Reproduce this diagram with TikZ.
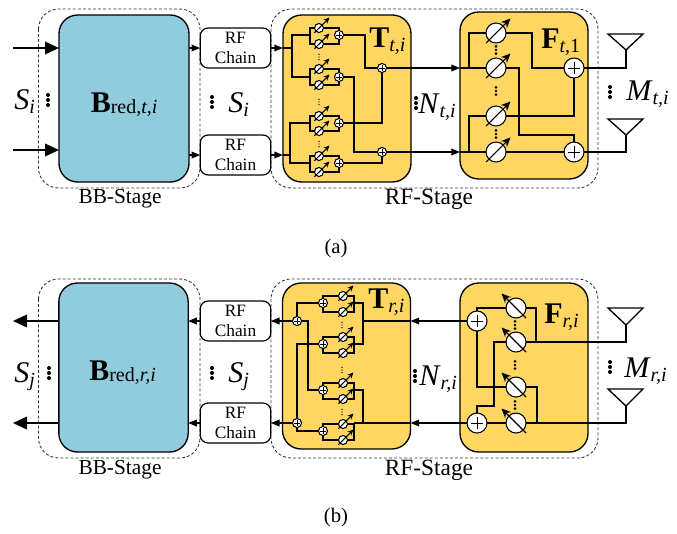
\documentclass[tikz,border=0pt]{standalone}
\usepackage{fontspec}
\setmainfont{Liberation Serif}
\usetikzlibrary{arrows.meta}
\definecolor{bluebox}{HTML}{90CCDE}
\definecolor{yellowbox}{HTML}{FFD662}
\definecolor{dashgray}{HTML}{333333}
\tikzset{
  wire/.style={line width=1pt,black,line join=miter},
  smallarrow/.style={wire,-{Triangle[length=6.5pt,width=5pt]}},
  bigarrow/.style={line width=1.1pt,-{Triangle[length=10.5pt,width=9.5pt]}},
  groupbox/.style={draw=dashgray,dashed,dash pattern=on 2.2pt off 1.6pt,line width=.65pt,rounded corners=15pt},
  basebox/.style={draw,fill=bluebox,line width=1pt,rounded corners=14pt,inner sep=0,outer sep=0,minimum width=#1},
  stagebox/.style={draw,fill=yellowbox,line width=1pt,rounded corners=14pt,inner sep=0,outer sep=0,minimum width=96pt},
  chainbox/.style={draw,fill=white,line width=.9pt,rounded corners=6pt,inner sep=0,outer sep=0,minimum width=53pt,minimum height=30pt,align=center,font=\fontsize{13}{15.5}\selectfont},
  phaser/.style={circle,draw,fill=white,line width=.8pt,inner sep=0,outer sep=0,minimum size=#1},
  adder/.style={circle,draw,fill=white,line width=.8pt,inner sep=0,outer sep=0,minimum size=#1*1pt,
    path picture={\draw[line width=.7pt] ([xshift=-.32pt*#1]path picture bounding box.center) -- ([xshift=.32pt*#1]path picture bounding box.center)
      ([yshift=-.32pt*#1]path picture bounding box.center) -- ([yshift=.32pt*#1]path picture bounding box.center);}},
  slashtip/.style={line width=.8pt,-{Stealth[length=#1,width=#1*.9]}},
  caption/.style={font=\fontsize{15.5}{18}\selectfont,inner sep=0},
  stagecap/.style={font=\fontsize{#1}{18}\selectfont,inner sep=0},
  lab/.style={anchor=base west,inner sep=0},
}
\newcommand{\bigsym}[3]{{\fontsize{22.5}{24}\selectfont #1}\raisebox{-#3pt}{\fontsize{15}{17}\selectfont #2}}
\newcommand{\tinydots}[4]{\foreach \k in {-1,0,1} \fill (#1,#2+\k*#3) circle (#4pt);}
% pair of small shifters and their adder: id, ps x, branch x, adder x, y1, y2, yadd
\newcommand{\ppair}[7]{%
  \node[phaser=6.8pt] (#1a) at (#2,#5) {};
  \node[phaser=6.8pt] (#1b) at (#2,#6) {};
  \node[adder=6.8] (#1s) at (#4,#7) {};
  \coordinate (#1i) at (#3,#7);
  \draw[wire] (#1a) -| (#1i) |- (#1b);
  \draw[wire] (#1a) -| (#1s);
  \draw[wire] (#1b) -| (#1s);
  \draw[slashtip=4.6pt] ([shift={(-4.7,4.7)}]#1a.center) -- ([shift={(10.5,-10.5)}]#1a.center);
  \draw[slashtip=4.6pt] ([shift={(-4.7,4.7)}]#1b.center) -- ([shift={(10.5,-10.5)}]#1b.center);
}
\newcommand{\bigps}[4]{% name,x,y,dir (1 up-right, -1 up-left)
  \node[phaser=15pt] (#1) at (#2,#3) {};
  \draw[slashtip=7pt] ([shift={(-10*#4,10)}]#1.center) -- ([shift={(14.5*#4,-14.5)}]#1.center);
}
\begin{document}
\begin{tikzpicture}[x=.75pt,y=-.75pt]
\useasboundingbox (0,0) rectangle (677,533);
% ---------- (a) ----------
\draw[groupbox] (38.5,9) rectangle (200,188);
\draw[groupbox] (271,9) rectangle (598,188);
\node[basebox=97.5pt,minimum height=125.25pt] (blueA) at (124,98.5) {};
\node[stagebox,minimum height=125.25pt] (tA) at (347,98.5) {};
\node[stagebox,minimum height=125.25pt] (fA) at (524,95.5) {};
\node[chainbox] (rfA1) at (235.5,48) {RF\\Chain};
\node[chainbox] (rfA2) at (235.5,155) {RF\\Chain};
\coordinate (inA1) at (13,48);
\coordinate (inA2) at (13,150);
\draw[bigarrow] (inA1) -- (inA1 -| blueA.west);
\draw[bigarrow] (inA2) -- (inA2 -| blueA.west);
\draw[smallarrow] (rfA1 -| blueA.east) -- (rfA1.west);
\draw[smallarrow] (rfA2 -| blueA.east) -- (rfA2.west);
\draw[smallarrow] (rfA1.east) -- (rfA1 -| tA.west);
\draw[smallarrow] (rfA2.east) -- (rfA2 -| tA.west);
% T block a
\ppair{ta1}{319}{310}{339}{28}{44}{35}
\ppair{ta2}{319}{310}{339}{69}{85}{77}
\ppair{ta3}{319}{310}{339}{116}{131}{123}
\ppair{ta4}{319}{310}{339}{156}{172}{163}
\node[adder=6.8] (tas1) at (382,68) {};
\node[adder=6.8] (tas2) at (382,152) {};
\coordinate (jA1) at (292,48);
\coordinate (jA2) at (290,155);
\draw[wire] (rfA1 -| tA.west) -- (jA1);
\draw[wire] (ta1i) -| (jA1) |- (ta2i);
\draw[wire] (rfA2 -| tA.west) -- (jA2);
\draw[wire] (ta3i) -| (jA2) |- (ta4i);
\coordinate (bA1) at (365,35);
\coordinate (bA2) at (354,77);
\draw[wire] (ta1s) -- (bA1) |- (tas1);
\draw[wire] (ta2s) -- (bA2) |- (tas2);
\draw[wire] (ta3s) -| (tas1);
\draw[wire] (ta4s) -| (tas2);
\tinydots{319}{57}{2.6}{.55}
\tinydots{319}{102}{2.6}{.55}
\tinydots{319}{144}{2.6}{.55}
% F block a
\bigps{fa1}{496}{33}{1}
\bigps{fa2}{496}{68}{1}
\bigps{fa3}{496}{116}{1}
\bigps{fa4}{496}{152}{1}
\node[adder=15] (fas1) at (574,68) {};
\node[adder=15] (fas2) at (574,152) {};
\draw[smallarrow] (tas1) -- (tas1 -| fA.west);
\draw[smallarrow] (tas2) -- (tas2 -| fA.west);
\coordinate (jA3) at (469,68);
\coordinate (jA4) at (469,152);
\draw[wire] (tas1 -| fA.west) -- (fa2);
\draw[wire] (tas2 -| fA.west) -- (fa4);
\draw[wire] (jA3) |- (fa1);
\draw[wire] (jA4) |- (fa3);
\coordinate (bA3) at (532,33);
\coordinate (bA4) at (519,68);
\coordinate (bA5) at (574,135);
\draw[wire] (fa1) -- (bA3) |- (fas1);
\draw[wire] (fa2) -- (bA4) |- (bA5) -- (fas2);
\draw[wire] (fa3) -| (fas1);
\draw[wire] (fa4) -- (fas2);
\tinydots{496}{50}{3.6}{1.1}
\tinydots{496}{91}{3.6}{1.1}
\tinydots{496}{134}{3.6}{1.1}
\coordinate (antA1) at (626,50);
\coordinate (antA2) at (626,135);
\draw[wire] (antA1) -- (608,34) -- (643,34) -- cycle;
\draw[wire] (antA2) -- (608,119) -- (643,119) -- cycle;
\draw[wire] (fas1) -| (antA1);
\draw[wire] (fas2) -| (antA2);
% labels a
\node[lab] (sA1) at (14,109) {\bigsym{\textit{S}}{\textit{i}}{3.5}};
\node[lab] (sA2) at (228,112) {\bigsym{\textit{S}}{\textit{i}}{3.5}};
\node[lab] (bA) at (90.5,112) {\bigsym{\textbf{B}}{red\textit{,t,i}}{1}};
\node[lab] (tlA) at (369,47) {\bigsym{\textbf{T}}{\textit{t,i}}{3.5}};
\node[lab] (flA) at (541,48) {\bigsym{\textbf{F}}{\textit{t,}1}{3.5}};
\node[lab] (nA) at (418,113) {\bigsym{\textit{N}}{\textit{t,i}}{3.5}};
\node[lab] (mA) at (626,100) {\bigsym{\textit{M}}{\textit{t,i}}{3.5}};
\tinydots{48}{100}{5}{1.5}
\tinydots{212}{102}{5}{1.5}
\tinydots{416}{103}{5}{1.5}
\tinydots{610}{92}{5}{1.5}
\node[stagecap=16] (capBBa) at (120,199) {BB-Stage};
\node[stagecap=17.5] (capRFa) at (429,199) {RF-Stage};
\node[caption] (capa) at (336,249) {(a)};
% ---------- (b) ----------
\draw[groupbox] (38.5,279) rectangle (200,458);
\draw[groupbox] (271,279) rectangle (598,458);
\node[basebox=97pt,minimum height=126.75pt] (blueB) at (123.5,367.5) {};
\node[stagebox,minimum height=124.5pt] (tB) at (346.5,366) {};
\node[stagebox,minimum height=126.75pt] (fB) at (524,367.5) {};
\node[chainbox] (rfB1) at (235.5,321) {RF\\Chain};
\node[chainbox] (rfB2) at (235.5,423) {RF\\Chain};
\coordinate (outB1) at (13,321);
\coordinate (outB2) at (13,423);
\draw[bigarrow] (outB1 -| blueB.west) -- (outB1);
\draw[bigarrow] (outB2 -| blueB.west) -- (outB2);
\draw[smallarrow] (rfB1.west) -- (rfB1 -| blueB.east);
\draw[smallarrow] (rfB2.west) -- (rfB2 -| blueB.east);
% T block b
\ppair{tb1}{343}{354}{323}{296}{312}{303}
\ppair{tb2}{343}{354}{323}{337}{353}{344}
\ppair{tb3}{343}{354}{323}{383}{399}{390}
\ppair{tb4}{343}{354}{323}{424}{440}{431}
\node[adder=6.8] (tbs1) at (297,321) {};
\node[adder=6.8] (tbs2) at (297,423) {};
\coordinate (jB1) at (363,321);
\coordinate (jB2) at (363,423);
\draw[wire] (tb1i) -| (jB1) |- (tb2i);
\draw[wire] (tb3i) -| (jB2);
\draw[wire] (jB2) -- (354,423);
\draw[wire] (tb1s) -| (tbs1);
\draw[wire] (tb4s) -| (tbs2);
\coordinate (bB1) at (297,344);
\coordinate (bB2) at (308,321);
\draw[wire] (tb2s) -- (bB1) -- (tbs2);
\draw[wire] (tb3s) -| (bB2) -- (tbs1);
\draw[wire] (jB1) -- (tB.east |- jB1);
\draw[wire] (jB2) -- (tB.east |- jB2);
\draw[smallarrow] (tbs1) -- (tbs1 -| rfB1.east);
\draw[smallarrow] (tbs2) -- (tbs2 -| rfB2.east);
\tinydots{342}{325}{2.6}{.55}
\tinydots{342}{370}{2.6}{.55}
\tinydots{342}{412}{2.6}{.55}
% F block b
\bigps{fb1}{516}{308}{-1}
\bigps{fb2}{516}{342}{-1}
\bigps{fb3}{516}{387}{-1}
\bigps{fb4}{516}{423}{-1}
\node[adder=15] (fbs1) at (477,321) {};
\node[adder=15] (fbs2) at (477,423) {};
\draw[smallarrow] (fbs1) -- (fbs1 -| tB.east);
\draw[smallarrow] (fbs2) -- (fbs2 -| tB.east);
\coordinate (bB3) at (494,406);
\draw[wire] (fbs1) |- (fb1);
\draw[wire] (fbs1) |- (fb3);
\draw[wire] (fbs2) |- (bB3) |- (fb2);
\draw[wire] (fbs2) -- (fb4);
\coordinate (antB1) at (626,325);
\coordinate (antB2) at (626,406);
\draw[wire] (antB1) -- (608,308) -- (643,308) -- cycle;
\draw[wire] (antB2) -- (608,389) -- (643,389) -- cycle;
\coordinate (cB1) at (536,342);
\coordinate (cB2) at (537,423);
\draw[wire] (fb1) -| (cB1);
\draw[wire] (fb3) -| (cB2);
\draw[wire] (fb2) -| (antB1);
\draw[wire] (fb4) -| (antB2);
\tinydots{515}{325}{3.6}{1.1}
\tinydots{515}{365}{3.6}{1.1}
\tinydots{515}{405}{3.6}{1.1}
% labels b
\node[lab] (sB1) at (14,382) {\bigsym{\textit{S}}{\textit{j}}{3.5}};
\node[lab] (sB2) at (228,382) {\bigsym{\textit{S}}{\textit{j}}{3.5}};
\node[lab] (bB) at (89,380) {\bigsym{\textbf{B}}{red\textit{,r,i}}{1}};
\node[lab] (tlB) at (368,308) {\bigsym{\textbf{T}}{\textit{r,i}}{3.5}};
\node[lab] (flB) at (544,323) {\bigsym{\textbf{F}}{\textit{r,i}}{3.5}};
\node[lab] (nB) at (419,385) {\bigsym{\textit{N}}{\textit{r,i}}{3.5}};
\node[lab] (mB) at (624,377) {\bigsym{\textit{M}}{\textit{r,i}}{3.5}};
\tinydots{49}{373}{5}{1.5}
\tinydots{212}{373}{5}{1.5}
\tinydots{415}{376}{5}{1.5}
\tinydots{610}{367}{5}{1.5}
\node[stagecap=16] (capBBb) at (120,470) {BB-Stage};
\node[stagecap=17.5] (capRFb) at (429,470) {RF-Stage};
\node[caption] (capb) at (336,518) {(b)};
\end{tikzpicture}
\end{document}
